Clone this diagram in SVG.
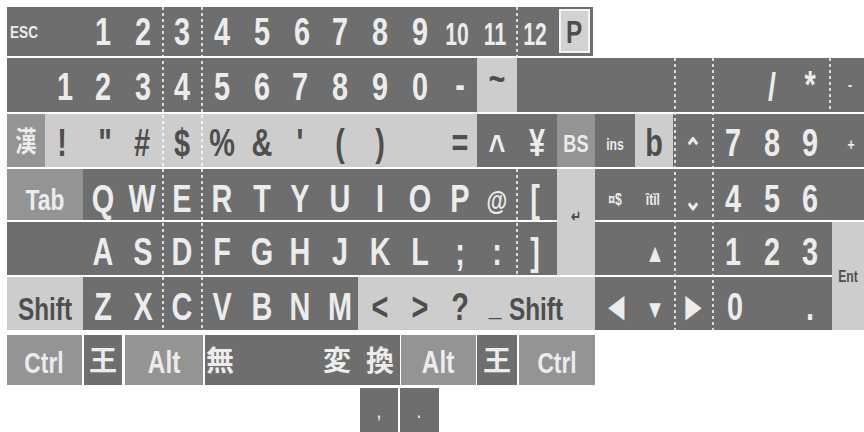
<svg xmlns="http://www.w3.org/2000/svg" width="864" height="432" viewBox="0 0 864 432">
<style>
.d{fill:#6e6e6e}
.m{fill:#949494}
.l{fill:#cdcdcd}
.t{font-family:"Liberation Sans","Noto Sans CJK JP",sans-serif;font-weight:bold;font-size:38px;text-anchor:middle;fill:#ececec;transform-box:fill-box;transform-origin:center;transform:scaleX(0.76)}
.n{transform:none}
.w{font-size:32px;transform:scaleX(0.66)}
.k{fill:#4e4e4e}
.s{font-size:16px}
.j{font-family:"Noto Sans CJK JP","Liberation Sans",sans-serif;font-size:28px}
.sep{stroke:#ffffff;stroke-width:1.5;stroke-dasharray:3 3;fill:none}
</style>
<rect width="864" height="432" fill="#ffffff"/>
<g id="bands">
<rect class="d" x="7" y="7" width="586" height="49"/>
<rect class="d" x="7" y="58" width="857" height="54"/>
<rect class="l" x="7" y="114" width="470" height="53"/>
<rect class="d" x="477" y="114" width="387" height="53"/>
<rect class="d" x="7" y="169" width="857" height="51"/>
<rect class="d" x="7" y="222" width="857" height="53"/>
<rect class="d" x="7" y="277" width="857" height="53"/>
</g>
<g id="separators">
<line class="sep" x1="163" y1="7" x2="163" y2="330"/>
<line class="sep" x1="202" y1="7" x2="202" y2="330"/>
<line class="sep" x1="517" y1="7" x2="517" y2="56"/>
<line class="sep" x1="517" y1="169" x2="517" y2="275"/>
<line class="sep" x1="675" y1="58" x2="675" y2="330"/>
<line class="sep" x1="713" y1="58" x2="713" y2="330"/>
<line class="sep" x1="830" y1="58" x2="830" y2="112"/>
</g>
<g id="row1">
<g id="key-esc"><text class="t s n" x="24" y="38" textLength="28" lengthAdjust="spacingAndGlyphs">ESC</text></g>
<g id="key-f1"><text class="t" x="103" y="45">1</text></g>
<g id="key-f2"><text class="t" x="143" y="45">2</text></g>
<g id="key-f3"><text class="t" x="182" y="45">3</text></g>
<g id="key-f4"><text class="t" x="222" y="45">4</text></g>
<g id="key-f5"><text class="t" x="262" y="45">5</text></g>
<g id="key-f6"><text class="t" x="302" y="45">6</text></g>
<g id="key-f7"><text class="t" x="340" y="45">7</text></g>
<g id="key-f8"><text class="t" x="380" y="45">8</text></g>
<g id="key-f9"><text class="t" x="420" y="45">9</text></g>
<g id="key-f10"><text class="t w" x="457" y="45">10</text></g>
<g id="key-f11"><text class="t w" x="495" y="45">11</text></g>
<g id="key-f12"><text class="t w" x="535" y="45">12</text></g>
<g id="key-p"><rect x="560" y="10" width="29" height="42" fill="#d2d2d2" stroke="#f4f4f4" stroke-width="2"/><text class="t k" x="574" y="43" style="font-size:32px">P</text></g>
</g>
<g id="row2">
<g id="key-1"><text class="t" x="65" y="100">1</text></g>
<g id="key-2"><text class="t" x="103" y="100">2</text></g>
<g id="key-3"><text class="t" x="143" y="100">3</text></g>
<g id="key-4"><text class="t" x="182" y="100">4</text></g>
<g id="key-5"><text class="t" x="222" y="100">5</text></g>
<g id="key-6"><text class="t" x="262" y="100">6</text></g>
<g id="key-7"><text class="t" x="300" y="100">7</text></g>
<g id="key-8"><text class="t" x="340" y="100">8</text></g>
<g id="key-9"><text class="t" x="380" y="100">9</text></g>
<g id="key-0"><text class="t" x="420" y="100">0</text></g>
<g id="key-minus"><text class="t" x="460" y="98">-</text></g>
<g id="key-tilde"><rect class="l" x="477" y="58" width="40" height="54"/><text class="t k" x="497" y="92">~</text></g>
<g id="key-slash"><text class="t" x="772" y="100">/</text></g>
<g id="key-star"><text class="t" x="810" y="98">*</text></g>
<g id="key-kpminus"><text class="t s" x="850" y="90">-</text></g>
</g>
<g id="row3">
<g id="key-kanji"><rect class="m" x="7" y="114" width="38" height="53"/><text class="t j" x="26" y="152">漢</text></g>
<g id="key-excl"><text class="t k" x="62" y="156">!</text></g>
<g id="key-quot"><text class="t k" x="105" y="156">"</text></g>
<g id="key-hash"><text class="t k" x="142" y="156">#</text></g>
<g id="key-dollar"><text class="t k" x="182" y="156">$</text></g>
<g id="key-pct"><text class="t k" x="222" y="156">%</text></g>
<g id="key-amp"><text class="t k" x="262" y="156">&amp;</text></g>
<g id="key-apos"><text class="t k" x="300" y="156">'</text></g>
<g id="key-lpar"><text class="t k" x="340" y="156">(</text></g>
<g id="key-rpar"><text class="t k" x="380" y="156">)</text></g>
<g id="key-eq"><text class="t k" x="460" y="156">=</text></g>
<g id="key-caret"><text class="t" x="497" y="162">^</text></g>
<g id="key-yen"><text class="t" x="537" y="156">¥</text></g>
<g id="key-bs"><rect class="m" x="557" y="114" width="38" height="53"/><text class="t" x="576" y="152" style="font-size:24px">BS</text></g>
<g id="key-ins"><text class="t s" x="615" y="150">ins</text></g>
<g id="key-home"><rect class="l" x="635" y="114" width="38" height="53"/><text class="t k" x="654" y="156">b</text></g>
<g id="key-rollup"><text class="t" x="693" y="158" style="font-size:28px">⌃</text></g>
<g id="key-kp7"><text class="t" x="733" y="156">7</text></g>
<g id="key-kp8"><text class="t" x="772" y="156">8</text></g>
<g id="key-kp9"><text class="t" x="810" y="156">9</text></g>
<g id="key-kpplus"><text class="t s" x="851" y="150">+</text></g>
</g>
<g id="row4">
<g id="key-tab"><rect class="m" x="7" y="169" width="76" height="51"/><text class="t" x="45" y="210" style="font-size:30px">Tab</text></g>
<g id="key-q"><text class="t" x="103" y="212">Q</text></g>
<g id="key-w"><text class="t" x="142" y="212">W</text></g>
<g id="key-e"><text class="t" x="182" y="212">E</text></g>
<g id="key-r"><text class="t" x="222" y="212">R</text></g>
<g id="key-t"><text class="t" x="262" y="212">T</text></g>
<g id="key-y"><text class="t" x="300" y="212">Y</text></g>
<g id="key-u"><text class="t" x="340" y="212">U</text></g>
<g id="key-i"><text class="t" x="380" y="212">I</text></g>
<g id="key-o"><text class="t" x="420" y="212">O</text></g>
<g id="key-p2"><text class="t" x="460" y="212">P</text></g>
<g id="key-at"><text class="t" x="497" y="210" style="font-size:28px">@</text></g>
<g id="key-lbr"><text class="t" x="535" y="212">[</text></g>
<g id="key-enter"><rect class="l" x="557" y="169" width="38" height="106"/><text class="t k s" x="576" y="222">↵</text></g>
<g id="key-rolldown"><text class="t s" x="615" y="205">¤$</text></g>
<g id="key-insdel"><text class="t s" x="653" y="205">ȋtǐl</text></g>
<g id="key-down2"><text class="t" x="693" y="210" style="font-size:28px">⌄</text></g>
<g id="key-kp4"><text class="t" x="733" y="212">4</text></g>
<g id="key-kp5"><text class="t" x="772" y="212">5</text></g>
<g id="key-kp6"><text class="t" x="810" y="212">6</text></g>
</g>
<g id="row5">
<g id="key-a"><text class="t" x="103" y="265">A</text></g>
<g id="key-s"><text class="t" x="143" y="265">S</text></g>
<g id="key-d"><text class="t" x="182" y="265">D</text></g>
<g id="key-f"><text class="t" x="222" y="265">F</text></g>
<g id="key-g"><text class="t" x="262" y="265">G</text></g>
<g id="key-h"><text class="t" x="300" y="265">H</text></g>
<g id="key-j"><text class="t" x="340" y="265">J</text></g>
<g id="key-k"><text class="t" x="380" y="265">K</text></g>
<g id="key-l"><text class="t" x="420" y="265">L</text></g>
<g id="key-semi"><text class="t" x="460" y="265">;</text></g>
<g id="key-colon"><text class="t" x="497" y="265">:</text></g>
<g id="key-rbr"><text class="t" x="535" y="265">]</text></g>
<g id="key-up"><text class="t" x="655" y="262" style="font-size:26px">▲</text></g>
<g id="key-kp1"><text class="t" x="733" y="265">1</text></g>
<g id="key-kp2"><text class="t" x="772" y="265">2</text></g>
<g id="key-kp3"><text class="t" x="810" y="265">3</text></g>
<g id="key-kpent"><rect class="l" x="832" y="222" width="32" height="108"/><text class="t k s" x="848" y="282">Ent</text></g>
</g>
<g id="row6">
<g id="key-lshift"><rect class="l" x="7" y="277" width="76" height="53"/><text class="t k" x="45" y="320" style="font-size:32px">Shift</text></g>
<g id="key-z"><text class="t" x="103" y="320">Z</text></g>
<g id="key-x"><text class="t" x="143" y="320">X</text></g>
<g id="key-c"><text class="t" x="182" y="320">C</text></g>
<g id="key-v"><text class="t" x="222" y="320">V</text></g>
<g id="key-b"><text class="t" x="262" y="320">B</text></g>
<g id="key-n"><text class="t" x="300" y="320">N</text></g>
<g id="key-m"><text class="t" x="340" y="320">M</text></g>
<rect class="l" x="358" y="277" width="237" height="53"/>
<g id="key-lt"><text class="t k" x="380" y="320">&lt;</text></g>
<g id="key-gt"><text class="t k" x="420" y="320">&gt;</text></g>
<g id="key-q2"><text class="t k" x="460" y="320">?</text></g>
<g id="key-us"><text class="t k" x="495" y="316" style="font-size:30px">_</text></g>
<g id="key-rshift"><text class="t k" x="536" y="320" style="font-size:32px">Shift</text></g>
<g id="key-left"><text class="t" x="617" y="318" style="font-size:26px">◀</text></g>
<g id="key-down"><text class="t" x="655" y="318" style="font-size:26px">▼</text></g>
<g id="key-right"><text class="t" x="693" y="318" style="font-size:26px">▶</text></g>
<g id="key-kp0"><text class="t" x="735" y="320">0</text></g>
<g id="key-kpdot"><text class="t" x="810" y="320">.</text></g>
</g>
<g id="row7">
<g id="key-lctrl"><rect class="m" x="7" y="335" width="75" height="50"/><text class="t" x="44" y="373" style="font-size:30px">Ctrl</text></g>
<g id="key-lh"><rect class="d" x="84" y="335" width="38" height="50"/><text class="t j n" x="103" y="371">王</text></g>
<g id="key-lalt"><rect class="m" x="125" y="335" width="78" height="50"/><text class="t" x="164" y="373" style="font-size:32px">Alt</text></g>
<g id="key-space"><rect class="d" x="205" y="335" width="155" height="50"/><text class="t j n" x="220" y="371">無</text><text class="t j n" x="337" y="371">変</text></g>
<g id="key-henkan"><rect class="d" x="360" y="335" width="40" height="50"/><text class="t j n" x="380" y="371">換</text></g>
<g id="key-ralt"><rect class="m" x="401" y="335" width="75" height="50"/><text class="t" x="438" y="373" style="font-size:32px">Alt</text></g>
<g id="key-rh"><rect class="d" x="477" y="335" width="40" height="50"/><text class="t j n" x="497" y="371">王</text></g>
<g id="key-rctrl"><rect class="m" x="519" y="335" width="76" height="50"/><text class="t" x="557" y="373" style="font-size:30px">Ctrl</text></g>
</g>
<g id="row8">
<g id="key-comma"><rect class="d" x="360" y="388" width="38" height="44"/><text class="t s" x="379" y="418">,</text></g>
<g id="key-period"><rect class="d" x="400" y="388" width="39" height="44"/><text class="t s" x="419" y="418">.</text></g>
</g>
</svg>
